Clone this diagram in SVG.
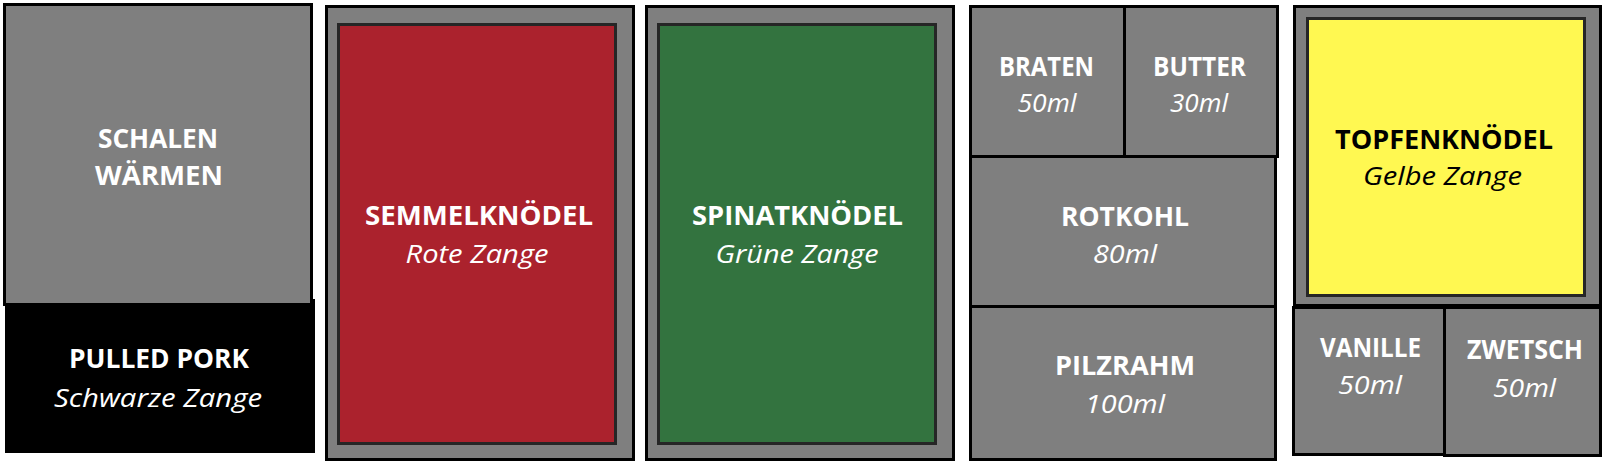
<svg xmlns="http://www.w3.org/2000/svg" width="1608" height="468" viewBox="0 0 1608 468">
<style>
.box{fill:#7f7f7f;stroke:#000;stroke-width:3}
.inner{stroke:#262626;stroke-width:3}
text{font-family:"Open Sans","Noto Sans","Liberation Sans",sans-serif;font-size:26px;text-anchor:middle;fill:#fff}
.b{font-weight:bold}
.i{font-style:italic}
.dark{fill:#000}
</style>
<rect width="1608" height="468" fill="#fff"/>
<g id="pulled-pork">
<rect x="5" y="299" width="310" height="154" fill="#000"/>
<text class="b" x="159" y="368" textLength="180" lengthAdjust="spacingAndGlyphs">PULLED PORK</text>
<text class="i" x="158" y="407" textLength="208" lengthAdjust="spacingAndGlyphs">Schwarze Zange</text>
</g>
<g id="schalen-waermen">
<rect class="box" x="4.5" y="4.5" width="307" height="300"/>
<text class="b" x="158" y="148" textLength="120" lengthAdjust="spacingAndGlyphs">SCHALEN</text>
<text class="b" x="159" y="185" textLength="128" lengthAdjust="spacingAndGlyphs">WÄRMEN</text>
</g>
<g id="semmelknoedel">
<rect class="box" x="326.5" y="6.5" width="307" height="453"/>
<rect class="inner" x="338.5" y="24.5" width="277" height="419" fill="#ab222d"/>
<text class="b" x="479" y="225" textLength="228" lengthAdjust="spacingAndGlyphs">SEMMELKNÖDEL</text>
<text class="i" x="477" y="263" textLength="143" lengthAdjust="spacingAndGlyphs">Rote Zange</text>
</g>
<g id="spinatknoedel">
<rect class="box" x="646.5" y="6.5" width="307" height="453"/>
<rect class="inner" x="658.5" y="24.5" width="277" height="419" fill="#33733f"/>
<text class="b" x="797.5" y="225" textLength="211" lengthAdjust="spacingAndGlyphs">SPINATKNÖDEL</text>
<text class="i" x="797" y="263" textLength="163" lengthAdjust="spacingAndGlyphs">Grüne Zange</text>
</g>
<g id="braten">
<rect class="box" x="970.5" y="6.5" width="154" height="150"/>
<text class="b" x="1046.5" y="76" textLength="95" lengthAdjust="spacingAndGlyphs">BRATEN</text>
<text class="i" x="1047" y="112" textLength="59" lengthAdjust="spacingAndGlyphs">50ml</text>
</g>
<g id="butter">
<rect class="box" x="1124.5" y="6.5" width="153" height="150"/>
<text class="b" x="1199.5" y="76" textLength="93" lengthAdjust="spacingAndGlyphs">BUTTER</text>
<text class="i" x="1199" y="112" textLength="58" lengthAdjust="spacingAndGlyphs">30ml</text>
</g>
<g id="rotkohl">
<rect class="box" x="970.5" y="156.5" width="305" height="150"/>
<text class="b" x="1125" y="226" textLength="128" lengthAdjust="spacingAndGlyphs">ROTKOHL</text>
<text class="i" x="1125" y="263" textLength="64" lengthAdjust="spacingAndGlyphs">80ml</text>
</g>
<g id="pilzrahm">
<rect class="box" x="970.5" y="306.5" width="305" height="153"/>
<text class="b" x="1125" y="375" textLength="140" lengthAdjust="spacingAndGlyphs">PILZRAHM</text>
<text class="i" x="1125" y="413" textLength="80" lengthAdjust="spacingAndGlyphs">100ml</text>
</g>
<g id="topfenknoedel">
<rect class="box" x="1294.5" y="6.5" width="306" height="299"/>
<rect class="inner" x="1307.5" y="18.5" width="277" height="277" fill="#fff851"/>
<text class="b dark" x="1444" y="149" textLength="218" lengthAdjust="spacingAndGlyphs">TOPFENKNÖDEL</text>
<text class="i dark" x="1442.5" y="185" textLength="159" lengthAdjust="spacingAndGlyphs">Gelbe Zange</text>
</g>
<g id="vanille">
<rect class="box" x="1293.5" y="307.5" width="151" height="147"/>
<text class="b" x="1370.5" y="357" textLength="101" lengthAdjust="spacingAndGlyphs">VANILLE</text>
<text class="i" x="1370" y="394" textLength="64" lengthAdjust="spacingAndGlyphs">50ml</text>
</g>
<g id="zwetsch">
<rect class="box" x="1444.5" y="307.5" width="156" height="148"/>
<text class="b" x="1525" y="359" textLength="116" lengthAdjust="spacingAndGlyphs">ZWETSCH</text>
<text class="i" x="1524.5" y="397" textLength="63" lengthAdjust="spacingAndGlyphs">50ml</text>
</g>
<g id="connectors"/>
</svg>
